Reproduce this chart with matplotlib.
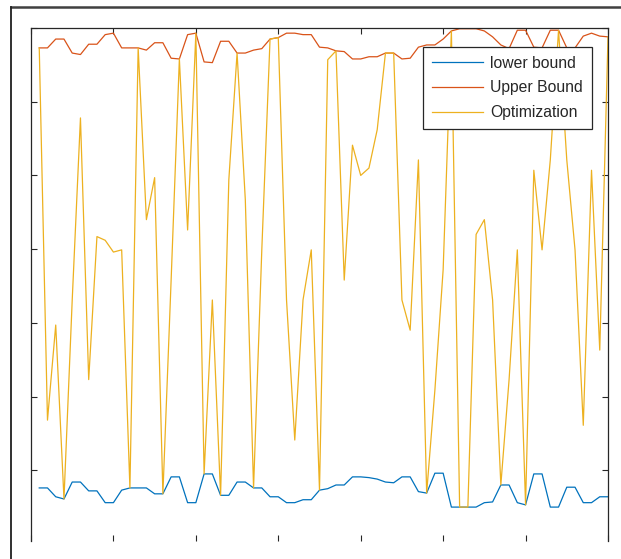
import numpy as np
import matplotlib
matplotlib.use("Agg")
import matplotlib.pyplot as plt
from matplotlib.lines import Line2D

# ---- data -------------------------------------------------------------
x_index = list(range(1, 71))

lower_bound = [0.76, 0.76, 0.64, 0.61, 0.84, 0.84, 0.72, 0.72, 0.56, 0.56,
               0.73, 0.76, 0.76, 0.76, 0.68, 0.68, 0.91, 0.91, 0.56, 0.56,
               0.95, 0.95, 0.66, 0.66, 0.84, 0.84, 0.76, 0.76, 0.64, 0.64,
               0.56, 0.56, 0.60, 0.60, 0.73, 0.75, 0.80, 0.80, 0.91, 0.91,
               0.90, 0.88, 0.84, 0.83, 0.91, 0.91, 0.71, 0.69, 0.96, 0.96,
               0.50, 0.50, 0.50, 0.50, 0.56, 0.57, 0.80, 0.80, 0.56, 0.53,
               0.95, 0.95, 0.50, 0.50, 0.77, 0.77, 0.56, 0.56, 0.64, 0.64]

upper_bound = [6.73, 6.73, 6.85, 6.85, 6.66, 6.64, 6.78, 6.78, 6.91, 6.93,
               6.73, 6.73, 6.73, 6.70, 6.80, 6.80, 6.59, 6.58, 6.91, 6.93,
               6.54, 6.53, 6.82, 6.82, 6.66, 6.66, 6.70, 6.72, 6.85, 6.87,
               6.93, 6.93, 6.91, 6.91, 6.74, 6.73, 6.69, 6.68, 6.58, 6.58,
               6.61, 6.61, 6.66, 6.66, 6.58, 6.59, 6.74, 6.77, 6.77, 6.85,
               6.96, 6.99, 6.99, 6.99, 6.96, 6.88, 6.77, 6.72, 6.97, 6.97,
               6.74, 6.73, 6.97, 6.97, 6.73, 6.73, 6.89, 6.93, 6.89, 6.88]

optimization = [6.73, 1.68, 2.97, 0.61, 3.31, 5.78, 2.23, 4.17, 4.12, 3.96,
                3.99, 0.76, 6.73, 4.40, 4.97, 0.68, 3.58, 6.58, 4.26, 6.93,
                0.95, 3.31, 0.66, 4.94, 6.66, 4.67, 0.76, 3.99, 6.85, 6.87,
                3.31, 1.41, 3.31, 3.99, 0.73, 6.57, 6.69, 3.58, 5.41, 5.00,
                5.10, 5.62, 6.66, 6.66, 3.31, 2.90, 5.21, 0.69, 2.09, 3.72,
                6.96, 0.50, 0.50, 4.20, 4.40, 3.31, 0.80, 2.23, 3.99, 0.53,
                5.07, 3.99, 5.21, 6.97, 5.21, 3.99, 1.61, 5.07, 2.63, 6.88]

series_labels = ["lower bound", "Upper Bound", "Optimization"]
x_ticks = list(range(0, 71, 10))
y_ticks = list(range(1, 8))

# ---- figure -----------------------------------------------------------
W, H = 621, 559
fig = plt.figure(figsize=(W / 100, H / 100), dpi=100)
fig.patch.set_facecolor("white")

def fx(px):
    return px / W

def fy(py):
    return 1 - py / H

ax = fig.add_axes([fx(31), fy(541), fx(608) - fx(31), fy(28) - fy(541)])

colors = ["#0072BD", "#D95319", "#EDB120"]
lw = 0.9
ax.plot(x_index, lower_bound, color=colors[0], lw=lw, label=series_labels[0])
ax.plot(x_index, upper_bound, color=colors[1], lw=lw, label=series_labels[1])
ax.plot(x_index, optimization, color=colors[2], lw=lw, label=series_labels[2])

ax.set_xlim(0, 70)
ax.set_ylim(0.04, 7)
ax.set_xticks(x_ticks)
ax.set_yticks(y_ticks)
ax.tick_params(which="both", direction="in", length=4.5, width=0.8,
               color="#262626", top=True, right=True,
               labelbottom=False, labelleft=False)
for side in ["top", "left", "right"]:
    ax.spines[side].set_color("#262626")
    ax.spines[side].set_linewidth(0.9)
ax.spines["bottom"].set_visible(False)

leg = ax.legend(loc="upper left",
                bbox_to_anchor=(fx(423), fy(47)),
                bbox_transform=fig.transFigure,
                borderaxespad=0, fancybox=False, framealpha=1,
                edgecolor="#262626", handlelength=3.3, handletextpad=0.45,
                labelspacing=0.62, borderpad=0.55,
                prop={"family": "Liberation Sans", "size": 11.3})
leg.get_frame().set_linewidth(0.9)
for t in leg.get_texts():
    t.set_color("#262626")

# outer frame lines of the cropped window
fig.add_artist(Line2D([fx(11), 1.0], [fy(7), fy(7)], transform=fig.transFigure,
                      color="#404040", lw=1.8))
fig.add_artist(Line2D([fx(11), fx(11)], [fy(7), 0.0], transform=fig.transFigure,
                      color="#202020", lw=1.3))

fig.savefig("out.png", dpi=100)
